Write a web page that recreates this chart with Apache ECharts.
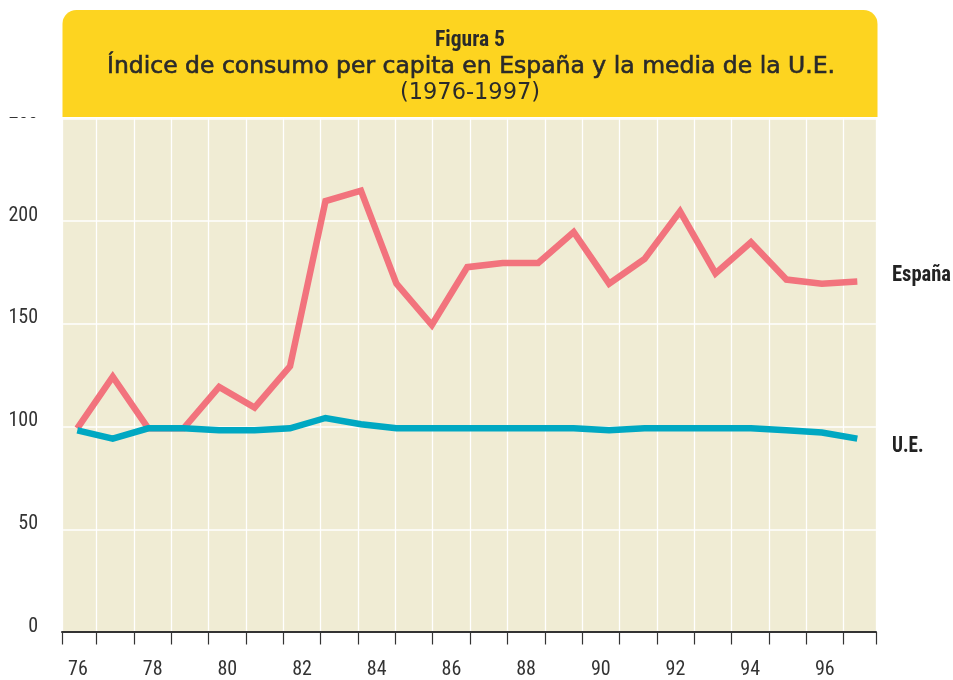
<!DOCTYPE html>
<html>
<head>
<meta charset="utf-8">
<script src="https://cdn.jsdelivr.net/npm/echarts@6/dist/echarts.min.js"></script>
<style>html,body{margin:0;padding:0;background:#fff}#c{width:953px;height:680px}</style>
</head>
<body>
<div id="c"></div>
<script>
// ---- data ----
const years = [76,77,78,79,80,81,82,83,84,85,86,87,88,89,90,91,92,93,94,95,96,97];
const labelYears = [76,78,80,82,84,86,88,90,92,94,96];
const espana = [100,125,100,100,120,110,130,210,215,170,150,178,180,180,195,170,182,205,175,190,172,170,171];
const ue     = [99,95,100,100,99,99,100,105,102,100,100,100,100,100,100,99,100,100,100,100,99,98,95];
const periods = espana.map((_, i) => 'p' + (i + 1));
const yTicks = { min: 0, max: 250, interval: 50 };
const titleLines = ['Figura 5', 'Índice de consumo per capita en España y la media de la U.E.', '(1976-1997)'];
const seriesNames = ['España', 'U.E.'];

// ---- font selection (pick a condensed installed face) ----
const mctx = document.createElement('canvas').getContext('2d');
function measure(font, s) { mctx.font = font; return mctx.measureText(s).width; }
function installed(f) {
  const s = 'Figura 5 España 0123456789 mmmwwwiiilll';
  return measure('40px monospace', s) !== measure('40px "' + f + '", monospace', s) ||
         measure('40px serif', s) !== measure('40px "' + f + '", serif', s);
}
const candidates = ['Liberation Sans Narrow', 'Arial Narrow', 'Roboto Condensed', 'Noto Sans Condensed',
  'Open Sans Condensed', 'Noto Sans SemiCondensed', 'DejaVu Sans Condensed', 'Liberation Sans'];
let best = 'Liberation Sans';
for (const f of candidates) { if (installed(f)) { best = f; break; } }
const NARROW = '"' + best + '", "DejaVu Sans Condensed", sans-serif';
const WIDE = '"DejaVu Sans", sans-serif';
function fitScale(text, size, weight, target) {
  return target / measure(weight + ' ' + size + 'px ' + NARROW, text);
}

// ---- styling ----
const BEIGE = '#F0ECD4';
const YELLOW = '#FDD420';
const PINK = '#F2737D';
const TEAL = '#00A8C2';
const INK = '#333333';
const AXIS_FONT = 20;

const xMin = 75.572, xMax = 97.37;
const tickVals = [xMin].concat(years.slice(1).map(y => y - 0.5), [xMax]);

const chart = echarts.init(document.getElementById('c'), null, { renderer: 'canvas' });
chart.setOption({
  animation: false,
  backgroundColor: '#ffffff',
  grid: [
    { left: 62, top: 118.4, width: 814, height: 516.5, show: true, backgroundColor: BEIGE, borderWidth: 0 },
    { left: 77.3, top: 118.4, width: 780, height: 516.5, show: false }
  ],
  xAxis: [
    {
      gridIndex: 0, type: 'value', min: xMin, max: xMax,
      axisLine: { show: true, lineStyle: { color: INK, width: 2 } },
      axisTick: { show: true, length: 12.5, customValues: tickVals, lineStyle: { color: INK, width: 1.2 } },
      axisLabel: {
        show: true, customValues: labelYears, margin: 28, lineHeight: 20,
        fontFamily: NARROW, fontWeight: 'normal', fontSize: AXIS_FONT, color: INK,
        formatter: v => String(Math.round(v))
      },
      splitLine: { show: true, lineStyle: { color: '#ffffff', width: 1.3 } }
    },
    { gridIndex: 1, type: 'category', data: periods, boundaryGap: false, show: false }
  ],
  yAxis: [
    {
      gridIndex: 0, type: 'value', min: yTicks.min, max: yTicks.max, interval: yTicks.interval,
      axisLine: { show: false }, axisTick: { show: false },
      axisLabel: { fontFamily: NARROW, fontWeight: 'normal', fontSize: AXIS_FONT, color: INK, margin: 24,
        verticalAlign: 'bottom', lineHeight: 11 },
      splitLine: { show: true, lineStyle: { color: '#ffffff', width: 1.5 } }
    },
    { gridIndex: 1, type: 'value', min: yTicks.min, max: yTicks.max, show: false }
  ],
  series: [
    {
      name: seriesNames[0], type: 'line', xAxisIndex: 1, yAxisIndex: 1, data: espana,
      symbol: 'none', clip: false, z: 3,
      lineStyle: { color: PINK, width: 6.5, join: 'miter', cap: 'butt' }
    },
    {
      name: seriesNames[1], type: 'line', xAxisIndex: 1, yAxisIndex: 1, data: ue,
      symbol: 'none', clip: false, z: 4,
      lineStyle: { color: TEAL, width: 6.5, join: 'miter', cap: 'butt' }
    }
  ],
  graphic: [
    // white margin that hides the top tick label, as in the original
    { type: 'rect', z: 99, shape: { x: 0, y: 0, width: 62.5, height: 117 }, style: { fill: '#ffffff' } },
    { type: 'rect', z: 100, shape: { x: 62.5, y: 10, width: 815, height: 107, r: [14, 14, 0, 0] },
      style: { fill: YELLOW } },
    { type: 'text', z: 101, x: 470, y: 40, scaleX: fitScale(titleLines[0], 22, 'bold', 70),
      style: { text: titleLines[0], align: 'center', verticalAlign: 'middle',
      font: 'bold 22px ' + NARROW, fill: '#2a2a2a' } },
    { type: 'text', z: 101, x: 471, y: 66.5, style: { text: titleLines[1], align: 'center', verticalAlign: 'middle',
      fontFamily: WIDE, fontSize: 23.5, fill: '#2a2a2a', stroke: '#2a2a2a', lineWidth: 0.6 } },
    { type: 'text', z: 101, x: 470, y: 93, style: { text: titleLines[2], align: 'center', verticalAlign: 'middle',
      fontFamily: WIDE, fontSize: 22.5, fill: '#2a2a2a' } },
    { type: 'text', z: 101, x: 892, y: 275, scaleX: fitScale(seriesNames[0], 22, 'bold', 59),
      style: { text: seriesNames[0], align: 'left', verticalAlign: 'middle',
      font: 'bold 22px ' + NARROW, fill: '#222222' } },
    { type: 'text', z: 101, x: 892, y: 446, scaleX: fitScale(seriesNames[1], 22, 'bold', 31.5),
      style: { text: seriesNames[1], align: 'left', verticalAlign: 'middle',
      font: 'bold 22px ' + NARROW, fill: '#222222' } }
  ]
});
</script>
</body>
</html>
